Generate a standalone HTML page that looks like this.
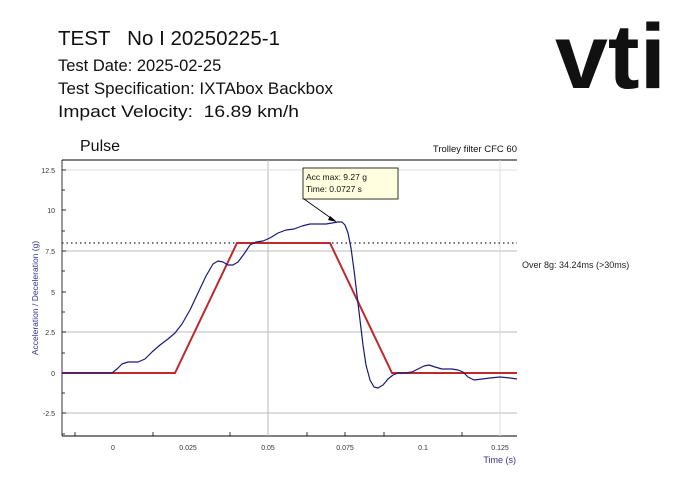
<!DOCTYPE html>
<html><head><meta charset="utf-8"><style>
html,body{margin:0;padding:0;background:#fff;width:693px;height:490px;overflow:hidden}
svg{display:block;font-family:"Liberation Sans",Arial,sans-serif}
text{white-space:pre}
</style></head><body>
<svg width="693" height="490" viewBox="0 0 693 490" xmlns="http://www.w3.org/2000/svg" xml:space="preserve">
<rect width="693" height="490" fill="#fff"/>
<text x="58" y="45" font-size="20" fill="#111" textLength="222" lengthAdjust="spacingAndGlyphs">TEST   No I 20250225-1</text>
<text x="58" y="71" font-size="16.5" fill="#111">Test Date: 2025-02-25</text>
<text x="58" y="94" font-size="16.5" fill="#111" textLength="275" lengthAdjust="spacingAndGlyphs">Test Specification: IXTAbox Backbox</text>
<text x="58" y="117" font-size="16.5" fill="#111" textLength="241" lengthAdjust="spacingAndGlyphs">Impact Velocity:  16.89 km/h</text>
<text x="555" y="88" font-size="92" font-weight="bold" fill="#111" textLength="111" lengthAdjust="spacingAndGlyphs">vti</text>

<text x="80" y="151" font-size="16" fill="#111">Pulse</text>
<text x="517" y="152" font-size="9.5" fill="#111" text-anchor="end">Trolley filter CFC 60</text>

<line x1="62" y1="160" x2="517" y2="160" stroke="#000" stroke-width="1"/>
<line x1="62" y1="436" x2="517" y2="436" stroke="#000" stroke-width="1"/>
<line x1="62" y1="160" x2="62" y2="436" stroke="#000" stroke-width="0.8"/>
<g stroke="#bbb" stroke-width="1">
<line x1="62" y1="251" x2="517" y2="251"/>
<line x1="62" y1="332" x2="517" y2="332"/>
<line x1="62" y1="413" x2="517" y2="413"/>
<line x1="268" y1="160" x2="268" y2="436"/>
</g>
<g stroke="#ddd" stroke-width="1">
<line x1="62" y1="170" x2="517" y2="170"/>
<line x1="500" y1="160" x2="500" y2="436"/>
</g>
<g stroke="#000" stroke-width="0.8">
<line x1="62" y1="170" x2="66" y2="170"/><line x1="62" y1="190" x2="65" y2="190"/>
<line x1="62" y1="210" x2="66" y2="210"/><line x1="62" y1="231" x2="65" y2="231"/>
<line x1="62" y1="251" x2="66" y2="251"/><line x1="62" y1="271" x2="65" y2="271"/>
<line x1="62" y1="292" x2="66" y2="292"/><line x1="62" y1="312" x2="65" y2="312"/>
<line x1="62" y1="332" x2="66" y2="332"/><line x1="62" y1="353" x2="65" y2="353"/>
<line x1="62" y1="373" x2="66" y2="373"/><line x1="62" y1="393" x2="65" y2="393"/>
<line x1="62" y1="413" x2="66" y2="413"/><line x1="62" y1="434" x2="65" y2="434"/>
<line x1="75" y1="436" x2="75" y2="432"/><line x1="153" y1="436" x2="153" y2="432"/>
<line x1="230" y1="436" x2="230" y2="432"/><line x1="307" y1="436" x2="307" y2="432"/>
<line x1="345" y1="436" x2="345" y2="432"/>
<line x1="384" y1="436" x2="384" y2="432"/><line x1="462" y1="436" x2="462" y2="432"/>
</g>
<g font-size="7" fill="#333" text-anchor="end">
<text x="55" y="173">12.5</text><text x="55" y="213">10</text><text x="55" y="254">7.5</text>
<text x="55" y="295">5</text><text x="55" y="335">2.5</text><text x="55" y="376">0</text>
<text x="55" y="416">-2.5</text>
</g>
<g font-size="7" fill="#333" text-anchor="middle">
<text x="113" y="450">0</text><text x="188" y="450">0.025</text><text x="268" y="450">0.05</text>
<text x="345" y="450">0.075</text><text x="423" y="450">0.1</text><text x="500" y="450">0.125</text>
</g>
<text x="516" y="463" font-size="9" fill="#33338a" text-anchor="end">Time (s)</text>
<text transform="translate(38,298) rotate(-90)" font-size="8.5" fill="#33338a" text-anchor="middle">Acceleration / Deceleration (g)</text>

<line x1="62" y1="243" x2="517" y2="243" stroke="#222" stroke-width="1.2" stroke-dasharray="1.5,3"/>
<text x="522" y="268" font-size="9" fill="#222">Over 8g: 34.24ms (&gt;30ms)</text>

<polyline fill="none" stroke="#c0282d" stroke-width="2" points="62,373 175,373 237,243 330,243 392,373 517,373"/>
<polyline fill="none" stroke="#1a1a7a" stroke-width="1.2" stroke-linejoin="round" points="62,373 112,373 117,369 122,364 128,362 138,362 145,359 152,352 160,345 168,339 175,333 182,324 190,310 198,293 206,276 213,264 218,261 223,262 228,265 233,265 238,262 244,254 250,245 256,242 263,241 270,238 278,233 286,230 294,229 302,226 310,224 318,224 326,224 332,223 338,222 342,222 345,225 348,233 351,248 354,270 357,295 360,320 363,345 366,365 370,380 374,387 378,388 383,385 388,379 393,375 398,373 405,373 412,372 418,369 424,366 429,365 435,367 442,369 452,369 458,370 463,372 468,377 474,380 482,379 490,378 500,377 510,378 517,379"/>

<line x1="304" y1="199" x2="335" y2="221" stroke="#000" stroke-width="0.8"/>
<polygon points="337,222 330,216 328,220" fill="#000"/>
<rect x="303" y="168" width="95" height="31" fill="#ffffe0" stroke="#000" stroke-width="0.8"/>
<text x="306" y="180" font-size="8.5" fill="#111">Acc max: 9.27 g</text>
<text x="306" y="192" font-size="8.5" fill="#111">Time: 0.0727 s</text>
</svg>
</body></html>
